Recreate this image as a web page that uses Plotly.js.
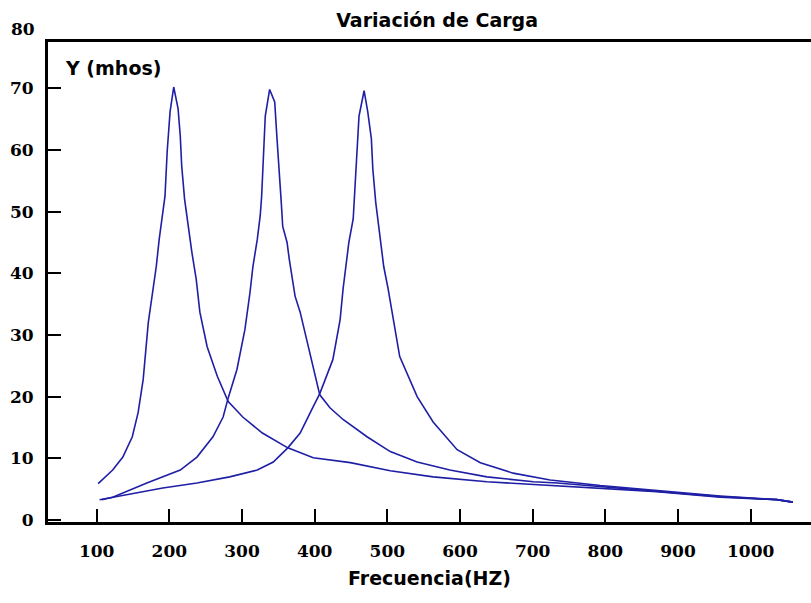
<!DOCTYPE html>
<html>
<head>
<meta charset="utf-8">
<script src="https://cdn.plot.ly/plotly-3.0.1.min.js"></script>
<style>html,body{margin:0;padding:0;background:#fff;}#chart{width:811px;height:603px;}</style>
</head>
<body>
<div id="chart"></div>
<script>
// Frequency (Hz) and admittance Y (mhos)
const freq1 = [102,122,136,149,157,164,171,177,182,186,191,194,197,201,206,212,215,217,221,226,231,237,239,242,252,266,281,301,328,363,398,449,504,563,637,710,734,793,871,958,1036,1058];
const y1    = [5.9,8.1,10.2,13.5,17.4,22.8,32.0,36.9,41.1,45.5,49.9,52.5,59.7,66.2,70.2,66.7,62.3,57.4,52.0,47.6,43.4,39.0,36.9,33.7,28.1,23.3,19.2,16.7,14.1,11.7,10.1,9.3,8.0,7.0,6.2,5.7,5.6,5.2,4.6,3.7,3.3,2.9];

const freq2 = [107,122,169,215,238,260,274,281,293,304,311,315,321,325,327,329,332,338,345,348,351,354,356,362,365,369,373,380,407,421,439,472,504,541,586,637,701,734,793,871,958,1036,1058];
const y2    = [3.3,3.7,6.0,8.1,10.2,13.5,16.7,19.8,24.4,30.9,36.9,41.1,45.5,49.3,52.5,59.0,65.5,69.8,67.8,62.1,57.4,51.5,47.6,45.0,42.3,39.5,36.3,33.7,20.3,18.2,16.3,13.5,11.1,9.4,8.1,7.0,6.2,6.0,5.4,4.7,3.8,3.3,2.9];

const freq3 = [104,146,191,238,283,321,343,363,380,398,407,425,435,439,444,447,453,455,458,461,468,473,478,480,484,487,491,495,501,517,541,563,596,628,673,724,793,871,958,1036,1058];
const y3    = [3.3,4.2,5.2,6.0,7.0,8.1,9.4,11.7,14.1,18.4,20.5,26.0,32.5,37.4,42.3,45.0,48.8,52.5,59.0,65.5,69.6,66.2,61.8,56.9,51.5,48.8,45.0,41.1,37.5,26.5,20.0,15.9,11.4,9.3,7.6,6.5,5.6,4.8,3.9,3.3,2.9];

const xTicks = [100,200,300,400,500,600,700,800,900,1000];
const yTicks = [0,10,20,30,40,50,60,70];

const lineColor = '#1f1fa6';
const serifBold = {family: '"DejaVu Serif", "Liberation Serif", serif', size: 17, color: '#000', weight: 'bold'};
const sansBold = {family: '"DejaVu Sans", "Liberation Sans", Arial, sans-serif', size: 19, color: '#000', weight: 'bold'};

const mk = (x, y) => ({x: x, y: y, type: 'scatter', mode: 'lines', line: {color: lineColor, width: 1.6}, hoverinfo: 'skip', showlegend: false});

const data = [mk(freq1, y1), mk(freq2, y2), mk(freq3, y3)];

const layout = {
  width: 811, height: 603,
  margin: {l: 48, r: 0, t: 42, b: 81, pad: 0},
  paper_bgcolor: '#fff', plot_bgcolor: '#fff',
  showlegend: false,
  title: {text: 'Variación de Carga', font: sansBold, xref: 'container', x: 0.539, xanchor: 'center', yref: 'container', y: 0.967, yanchor: 'middle'},
  xaxis: {
    range: [33, 1083], tickvals: xTicks, ticktext: xTicks.map(String),
    ticks: 'inside', ticklen: 13, tickwidth: 2, tickcolor: '#000',
    showline: true, linewidth: 3, linecolor: '#000', mirror: true,
    showgrid: false, zeroline: false, tickfont: serifBold, ticklabelstandoff: 12,
    title: {text: 'Frecuencia(HZ)', font: sansBold, standoff: 12}
  },
  yaxis: {
    range: [-0.32, 77.5], tickvals: yTicks, ticktext: yTicks.map(String),
    ticks: 'inside', ticklen: 13, tickwidth: 2, tickcolor: '#000',
    showline: true, linewidth: 3, linecolor: '#000',
    showgrid: false, zeroline: false, tickfont: serifBold, ticklabelstandoff: 8
  },
  annotations: [
    {text: '80', xref: 'paper', x: 0, xanchor: 'right', xshift: -11, yref: 'paper', y: 1.027, yanchor: 'middle', showarrow: false, font: serifBold},
    {text: 'Y (mhos)', xref: 'paper', x: 0.02, xanchor: 'left', yref: 'paper', y: 0.946, yanchor: 'middle', showarrow: false, font: sansBold}
  ]
};

Plotly.newPlot('chart', data, layout, {displayModeBar: false, staticPlot: true});
</script>
</body>
</html>
